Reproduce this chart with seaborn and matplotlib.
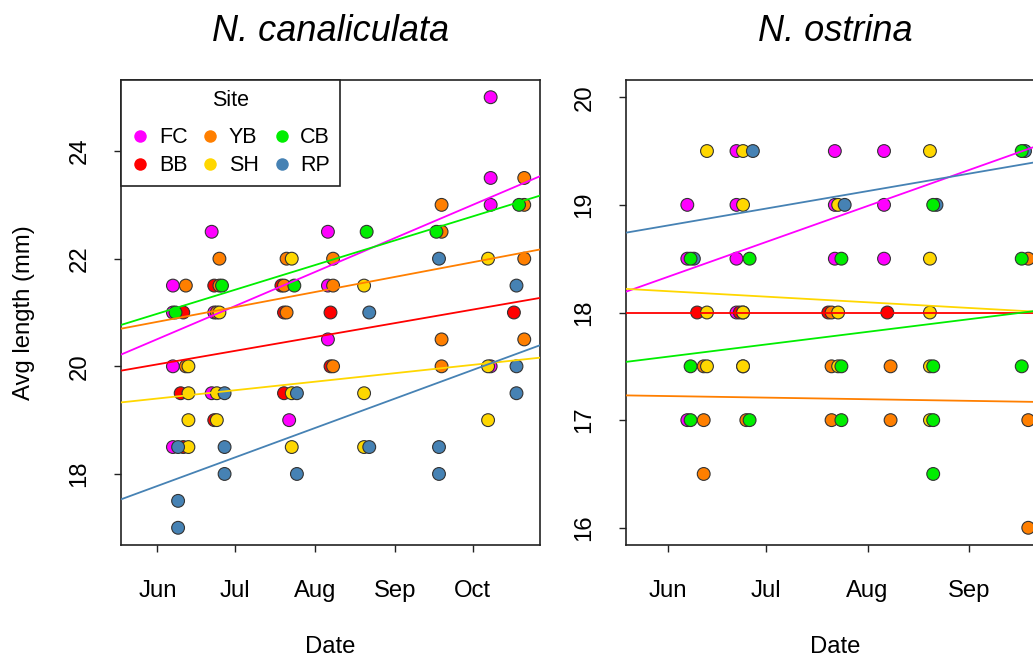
import numpy as np
import pandas as pd
import matplotlib
matplotlib.use("Agg")
import matplotlib.pyplot as plt
import matplotlib.dates as mdates
from matplotlib.lines import Line2D
import seaborn as sns

YEAR = 2016
sites = ["FC", "BB", "YB", "SH", "CB", "RP"]
site_colors = ["#FF00FF", "#FF0000", "#FF7F00", "#FFD700", "#00EE00", "#4682B4"]
draw_order = ["FC", "BB", "YB", "SH", "RP", "CB"]

# ---------------- N. canaliculata ----------------
can_site = (["FC"] * 15 + ["BB"] * 11 + ["YB"] * 19 + ["SH"] * 16 + ["RP"] * 16 + ["CB"] * 6)
can_date = [
    # FC
    "10-08", "10-08", "10-08", "06-22", "08-06", "06-07", "08-06", "06-07", "06-23", "08-06",
    "06-07", "10-08", "06-22", "07-22", "06-07",
    # BB
    "06-23", "07-19", "06-11", "07-20", "08-07", "10-17", "08-07", "06-10", "07-20", "06-23", "06-11",
    # YB
    "10-21", "09-19", "10-21", "09-19", "06-25", "07-21", "08-08", "10-21", "06-12", "06-25",
    "07-20", "08-08", "06-24", "07-21", "09-19", "10-21", "06-12", "08-08", "09-19",
    # SH
    "07-23", "10-07", "08-20", "06-25", "06-13", "10-07", "06-13", "06-24", "07-23", "08-20",
    "06-13", "06-24", "10-07", "06-13", "07-23", "08-20",
    # RP
    "09-18", "10-18", "08-22", "10-18", "06-27", "07-25", "10-18", "06-09", "06-27", "08-22",
    "09-18", "06-27", "07-25", "09-18", "06-09", "06-09",
    # CB
    "10-19", "08-21", "09-17", "06-26", "07-24", "06-08",
]
can_len = [
    25, 23.5, 23, 22.5, 22.5, 21.5, 21.5, 21, 21, 20.5, 20, 20, 19.5, 19, 18.5,
    21.5, 21.5, 21, 21, 21, 21, 20, 19.5, 19.5, 19, 18.5,
    23.5, 23, 23, 22.5, 22, 22, 22, 22, 21.5, 21.5, 21.5, 21.5, 21, 21, 20.5, 20.5, 20, 20, 20,
    22, 22, 21.5, 21, 20, 20, 19.5, 19.5, 19.5, 19.5, 19, 19, 19, 18.5, 18.5, 18.5,
    22, 21.5, 21, 20, 19.5, 19.5, 19.5, 18.5, 18.5, 18.5, 18.5, 18, 18, 18, 17.5, 17,
    23, 22.5, 22.5, 21.5, 21.5, 21,
]
can_trend_dates = ["05-18", "10-27"]
can_trend_start = [20.22, 19.92, 20.70, 19.33, 20.77, 17.53]
can_trend_end = [23.53, 21.27, 22.17, 20.16, 23.17, 20.39]

# ---------------- N. ostrina ----------------
ost_site = (["FC"] * 13 + ["BB"] * 4 + ["YB"] * 14 + ["SH"] * 15 + ["RP"] * 5 + ["CB"] * 15)
ost_date = [
    # FC
    "06-22", "07-22", "08-06", "06-07", "06-22", "07-22", "08-06", "06-07", "06-22", "07-22",
    "08-06", "06-22", "06-07",
    # BB
    "06-10", "06-23", "07-20", "08-07",
    # YB
    "09-19", "06-24", "07-21", "06-12", "06-24", "07-21", "08-08", "06-12", "06-25", "07-21",
    "08-08", "09-19", "06-12", "09-19",
    # SH
    "06-13", "06-24", "08-20", "06-24", "07-23", "08-20", "06-13", "06-24", "07-23", "08-20",
    "06-13", "06-24", "07-23", "08-20", "08-20",
    # RP
    "06-27", "09-18", "07-25", "08-22", "06-09",
    # CB
    "09-17", "08-21", "06-08", "06-26", "07-24", "09-17", "06-08", "07-24", "08-21", "09-17",
    "06-08", "06-26", "07-24", "08-21", "08-21",
]
ost_len = [
    19.5, 19.5, 19.5, 19, 19, 19, 19, 18.5, 18.5, 18.5, 18.5, 18, 17,
    18, 18, 18, 18,
    18.5, 18, 18, 17.5, 17.5, 17.5, 17.5, 17, 17, 17, 17, 17, 16.5, 16,
    19.5, 19.5, 19.5, 19, 19, 18.5, 18, 18, 18, 18, 17.5, 17.5, 17.5, 17.5, 17,
    19.5, 19.5, 19, 19, 18.5,
    19.5, 19, 18.5, 18.5, 18.5, 18.5, 17.5, 17.5, 17.5, 17.5, 17, 17, 17, 17, 16.5,
]
ost_trend_dates = ["05-19", "09-20"]
ost_trend_start = [18.19, 18.00, 17.23, 18.22, 17.54, 18.74]
ost_trend_end = [19.53, 18.00, 17.17, 18.01, 18.01, 19.39]

month_ticks = ["06-01", "07-01", "08-01", "09-01", "10-01"]


def to_num(dates):
    return mdates.date2num(pd.to_datetime([f"{YEAR}-{d}" for d in dates]))


sns.set_style("white")
plt.rcParams["font.family"] = ["Liberation Sans", "DejaVu Sans"]
plt.rcParams["text.color"] = "black"
plt.rcParams["axes.labelcolor"] = "black"

W, H = 1033, 658
fig = plt.figure(figsize=(W / 100, H / 100), dpi=100)
pal = dict(zip(sites, site_colors))
FS = 17.2

jun1 = to_num(["06-01"])[0]
panels = [
    dict(title="N. canaliculata", site=can_site, date=can_date, length=can_len,
         tdates=can_trend_dates, t0=can_trend_start, t1=can_trend_end,
         rect=[121 / W, 113 / H, 419 / W, 465 / H], xlim=(jun1 - 14.1, jun1 + 148.1),
         ylim=(16.68, 25.32), yticks=[18, 20, 22, 24], ylabel="Avg length (mm)"),
    dict(title="N. ostrina", site=ost_site, date=ost_date, length=ost_len,
         tdates=ost_trend_dates, t0=ost_trend_start, t1=ost_trend_end,
         rect=[626 / W, 113 / H, 419 / W, 465 / H], xlim=(jun1 - 12.7, jun1 + 115.1),
         ylim=(15.84, 20.16), yticks=[16, 17, 18, 19, 20], ylabel=None),
]

for i, p in enumerate(panels):
    ax = fig.add_axes(p["rect"])
    df = pd.DataFrame({"site": p["site"], "x": to_num(p["date"]), "len": p["length"]})
    df["site"] = pd.Categorical(df["site"], categories=draw_order)
    df = df.sort_values("site", kind="stable")
    sns.scatterplot(data=df, x="x", y="len", hue="site", hue_order=sites, palette=pal,
                    s=85, edgecolor="#333333", linewidth=0.8, legend=False, ax=ax, zorder=3)
    tx = to_num(p["tdates"])
    for s, c, a, b in zip(sites, site_colors, p["t0"], p["t1"]):
        ax.axline((tx[0], a), (tx[1], b), color=c, lw=1.3, zorder=4)
    ax.set_xticks(to_num(month_ticks))
    ax.xaxis.set_major_formatter(mdates.DateFormatter("%b"))
    ax.set_yticks(p["yticks"])
    ax.set_yticklabels([str(v) for v in p["yticks"]])
    ax.set_xlim(*p["xlim"])
    ax.set_ylim(*p["ylim"])
    ax.tick_params(axis="both", direction="out", length=5, width=1, color="#222222",
                   labelsize=FS, labelcolor="black", bottom=True, left=True)
    ax.tick_params(axis="x", pad=20)
    ax.tick_params(axis="y", pad=17)
    for lab in ax.get_yticklabels():
        lab.set_rotation(90)
        lab.set_va("center")
        lab.set_ha("right")
    for sp in ax.spines.values():
        sp.set_color("#222222")
        sp.set_linewidth(1.2)
    ax.set_title(p["title"], fontsize=26, style="italic", pad=28, color="black")
    ax.set_xlabel("Date", fontsize=FS)
    ax.xaxis.set_label_coords(0.5, -(653 - 545) / 465)
    ax.xaxis.label.set_va("baseline")
    if p["ylabel"]:
        ax.set_ylabel(p["ylabel"], fontsize=FS)
        ax.yaxis.set_label_coords((30.5 - 121) / 419, 0.5)
        ax.yaxis.label.set_va("baseline")
    else:
        ax.set_ylabel("")
    if i == 0:
        handles = [Line2D([], [], marker="o", ls="none", markersize=9, markerfacecolor=c,
                          markeredgewidth=0, label=s) for s, c in zip(sites, site_colors)]
        leg = ax.legend(handles=handles, title="Site", ncol=3, loc="upper left",
                        bbox_to_anchor=(0, 1), borderaxespad=0, fontsize=15.5, title_fontsize=15.5,
                        frameon=True, fancybox=False, edgecolor="#222222", framealpha=1,
                        handlelength=0.9, handletextpad=0.42, columnspacing=0.6,
                        borderpad=0.45, labelspacing=0.33)
        leg._legend_box.sep = 12
        leg.get_frame().set_linewidth(1.2)

fig.savefig("out.png", dpi=100)
